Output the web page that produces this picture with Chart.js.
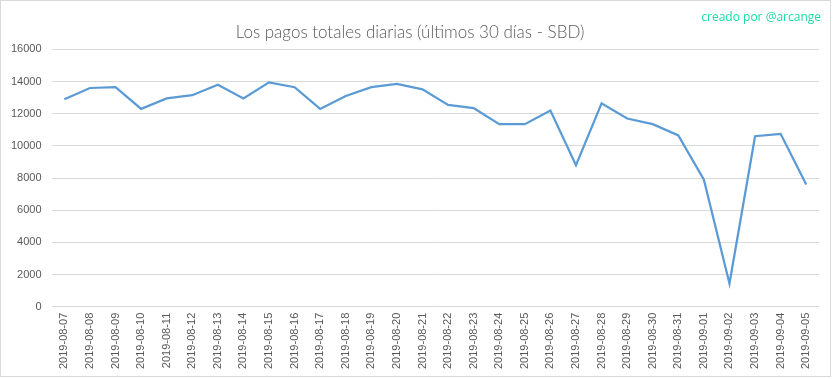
<!DOCTYPE html>
<html>
<head>
<meta charset="utf-8">
<script src="https://cdn.jsdelivr.net/npm/chart.js@4"></script>
<style>
  html, body { margin: 0; padding: 0; background: #fff; }
  #box {
    position: relative;
    width: 829px;
    height: 375px;
    border: 1px solid #d9d9d9;
    background: #fff;
  }
  #credit {
    position: absolute;
    top: 7px;
    right: 9px;
    font-family: "Open Sans", sans-serif;
    font-size: 12px;
    color: #19dca4;
  }
</style>
</head>
<body>
<div id="box">
  <canvas id="chart" width="829" height="375"></canvas>
  <div id="credit">creado por @arcange</div>
</div>
<script>
// fechas (últimos 30 días)
const labels = [
  "2019-08-07", "2019-08-08", "2019-08-09", "2019-08-10", "2019-08-11",
  "2019-08-12", "2019-08-13", "2019-08-14", "2019-08-15", "2019-08-16",
  "2019-08-17", "2019-08-18", "2019-08-19", "2019-08-20", "2019-08-21",
  "2019-08-22", "2019-08-23", "2019-08-24", "2019-08-25", "2019-08-26",
  "2019-08-27", "2019-08-28", "2019-08-29", "2019-08-30", "2019-08-31",
  "2019-09-01", "2019-09-02", "2019-09-03", "2019-09-04", "2019-09-05"
];

// pagos totales en SBD
const pagos = [
  12900, 13600, 13650, 12300, 12950,
  13150, 13800, 12950, 13950, 13650,
  12300, 13100, 13650, 13850, 13520,
  12550, 12350, 11350, 11350, 12200,
  8800, 12650, 11700, 11350, 10650,
  7900, 1450, 10600, 10750, 7600
];

const yTicks = [0, 2000, 4000, 6000, 8000, 10000, 12000, 14000, 16000];

const gray = "#595959";

new Chart(document.getElementById("chart"), {
  type: "line",
  data: {
    labels: labels,
    datasets: [{
      label: "SBD",
      data: pagos,
      borderColor: "#5b9bd5",
      borderWidth: 2.25,
      pointRadius: 0,
      tension: 0,
      fill: false
    }]
  },
  options: {
    responsive: false,
    animation: false,
    layout: { padding: { left: 0, right: 11, top: 2, bottom: 1 } },
    plugins: {
      legend: { display: false },
      tooltip: { enabled: false },
      title: {
        display: true,
        text: "Los pagos totales diarias (últimos 30 días - SBD)",
        color: gray,
        font: { family: "Lato", size: 17, weight: "300" },
        padding: { top: 19, bottom: 7 }
      }
    },
    scales: {
      x: {
        offset: true,
        grid: { display: false, drawTicks: false },
        border: { display: false },
        ticks: {
          color: gray,
          font: { family: "Liberation Sans", size: 11 },
          minRotation: 90,
          maxRotation: 90,
          autoSkip: false,
          padding: 6
        }
      },
      y: {
        min: 0,
        max: 16000,
        afterBuildTicks: (axis) => { axis.ticks = yTicks.map(v => ({ value: v })); },
        grid: { color: "#d9d9d9", lineWidth: 1, drawTicks: false },
        border: { display: false },
        ticks: {
          color: gray,
          font: { family: "Liberation Sans", size: 11 },
          padding: 10,
          callback: (v) => String(v)
        }
      }
    }
  }
});
</script>
</body>
</html>
